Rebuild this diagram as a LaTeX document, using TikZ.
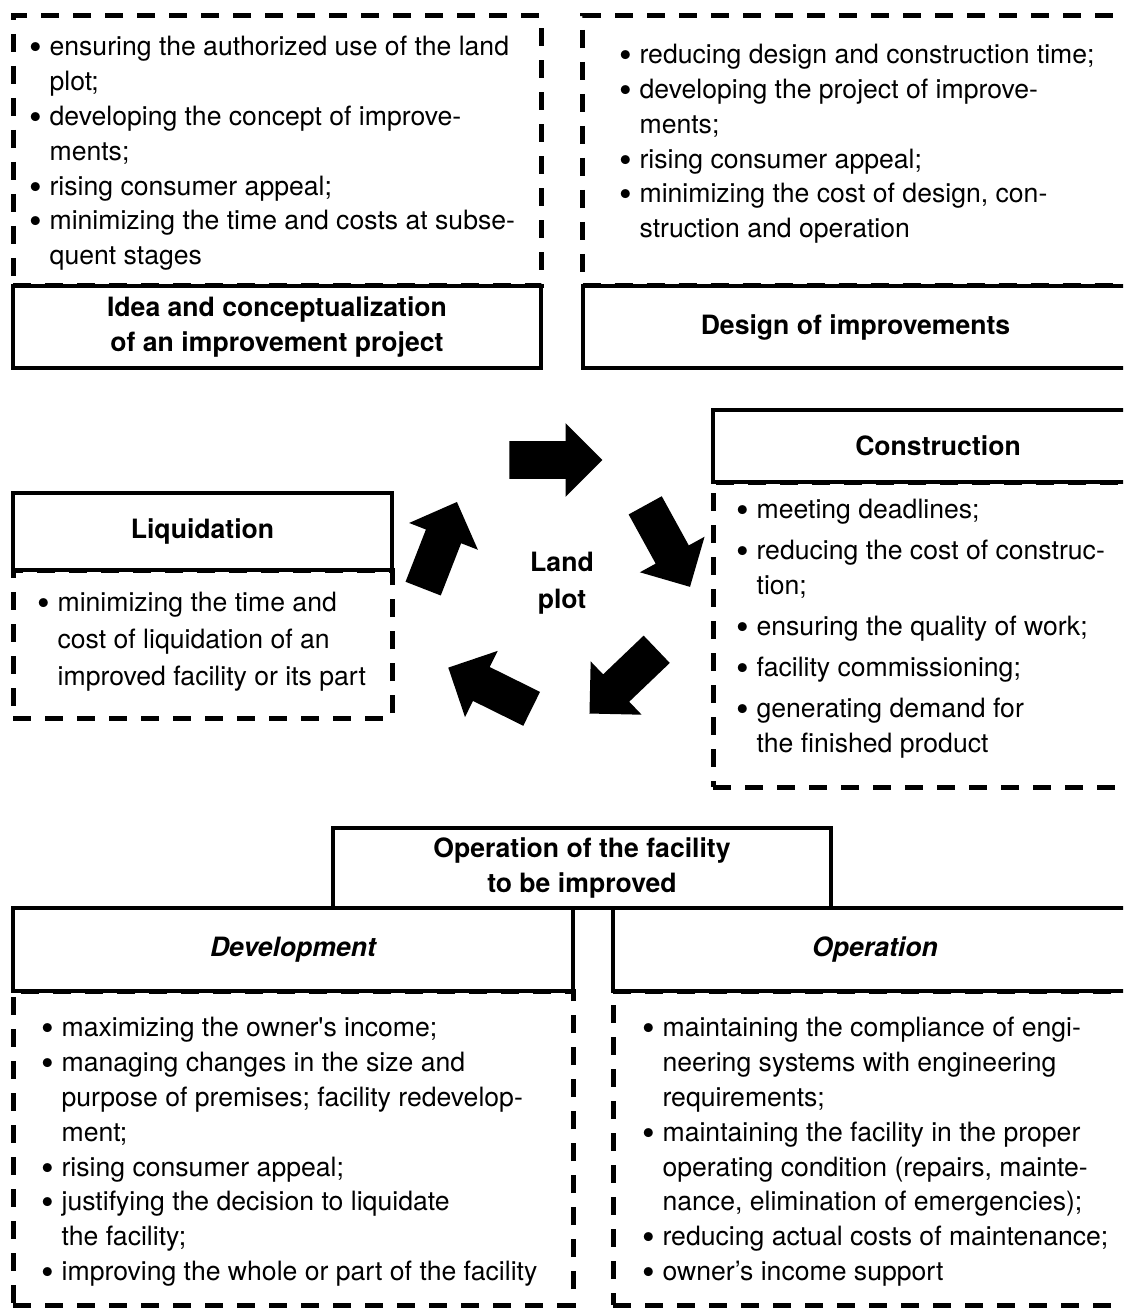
\documentclass[tikz,border=0pt]{standalone}
\usepackage{fontspec}
\setmainfont{TeX Gyre Heros}
\usetikzlibrary{shapes.arrows, positioning}

\newcommand{\bul}{\makebox[10.1pt][l]{\raisebox{-2pt}{\fontsize{18pt}{18pt}\selectfont\textbullet}}}
\newcommand{\cont}{\hspace*{10.1pt}}

\begin{document}
\begin{tikzpicture}[x=0.5pt, y=-0.5pt,
    dashbox/.style={rectangle, draw, line width=2.5pt, dash pattern=on 9pt off 7pt, inner sep=0pt},
    titlebox/.style={rectangle, draw, line width=2pt, align=center, inner sep=0pt, font=\fontsize{13.3pt}{17.5pt}\selectfont\bfseries},
    items/.style={anchor=north west, inner sep=0pt, align=left, font=\fontsize{13.3pt}{17.4pt}\selectfont},
    cycle/.style={single arrow, fill=black, inner sep=9.25pt, minimum height=46.5pt, single arrow head extend=9pt, anchor=tail}
]
    \useasboundingbox (0,0) rectangle (1123,1310);
    \clip (0,0) rectangle (1123,1310);

    \node[titlebox, minimum width=264pt, minimum height=41pt] (idea) at (277,327) {Idea and conceptualization\\of an improvement project};
    \node[titlebox, minimum width=273pt, minimum height=41pt] (design) at (855.5,327) {Design of improvements};
    \node[titlebox, minimum width=225pt, minimum height=36pt] (constr) at (938,446) {Construction};
    \node[titlebox, minimum width=189.5pt, minimum height=38.5pt] (liq) at (202.5,531.5) {Liquidation};
    \node[titlebox, minimum width=249pt, minimum height=40pt] (facil) at (582,868) {Operation of the facility\\to be improved};
    \node[titlebox, minimum width=280pt, minimum height=41.5pt, font=\fontsize{13.3pt}{17.5pt}\selectfont\bfseries\itshape] (devel) at (293,949.5) {Development};
    \node[titlebox, minimum width=262pt, minimum height=41.5pt, font=\fontsize{13.3pt}{17.5pt}\selectfont\bfseries\itshape] (oper) at (875,949.5) {Operation};

    \node[dashbox, minimum width=264pt, minimum height=135pt] (ideaD) at (277,151) {};
    \node[dashbox, minimum width=273pt, minimum height=135pt] (designD) at (855.5,151) {};
    \node[dashbox, minimum width=225pt, minimum height=152.5pt] (constrD) at (938,634.5) {};
    \node[dashbox, minimum width=189.5pt, minimum height=74pt] (liqD) at (202.5,644) {};
    \node[dashbox, minimum width=280pt, minimum height=157pt] (develD) at (293,1148) {};
    \node[dashbox, minimum width=262pt, minimum height=157pt] (operD) at (875,1148) {};

    \node[items] (ideaT) at (29,36) {\bul ensuring the authorized use of the land\\
        \cont plot;\\
        \bul developing the concept of improve-\\
        \cont ments;\\
        \bul rising consumer appeal;\\
        \bul minimizing the time and costs at subse-\\
        \cont quent stages};
    \node[items] (designT) at (619,44) {\bul reducing design and construction time;\\
        \bul developing the project of improve-\\
        \cont ments;\\
        \bul rising consumer appeal;\\
        \bul minimizing the cost of design, con-\\
        \cont struction and operation};
    \node[items, font=\fontsize{13.3pt}{17.5pt}\selectfont] (constrT) at (736,499) {\bul meeting deadlines;\\[3pt]
        \bul reducing the cost of construc-\\
        \cont tion;\\[3pt]
        \bul ensuring the quality of work;\\[3pt]
        \bul facility commissioning;\\[3pt]
        \bul generating demand for\\
        \cont the finished product};
    \node[items, font=\fontsize{13.3pt}{18.5pt}\selectfont] (liqT) at (37,592) {\bul minimizing the time and\\
        \cont cost of liquidation of an\\
        \cont improved facility or its part};
    \node[items] (develT) at (41,1017) {\bul maximizing the owner\textquotesingle s income;\\
        \bul managing changes in the size and\\
        \cont purpose of premises; facility redevelop-\\
        \cont ment;\\
        \bul rising consumer appeal;\\
        \bul justifying the decision to liquidate\\
        \cont the facility;\\
        \bul improving the whole or part of the facility};
    \node[items] (operT) at (642,1017) {\bul maintaining the compliance of engi-\\
        \cont neering systems with engineering\\
        \cont requirements;\\
        \bul maintaining the facility in the proper\\
        \cont operating condition (repairs, mainte-\\
        \cont nance, elimination of emergencies);\\
        \bul reducing actual costs of maintenance;\\
        \bul owner’s income support};

    \node[align=center, inner sep=0pt, font=\fontsize{13.3pt}{18.5pt}\selectfont\bfseries] (land) at (562,583) {Land\\plot};

    \node[cycle, rotate=0] (toDesign) at (509,460) {};
    \node[cycle, rotate=-61.2] (toConstr) at (645,505) {};
    \node[cycle, rotate=223.7] (toOper) at (657,649) {};
    \node[cycle, rotate=153.7] (toLiq) at (532,709) {};
    \node[cycle, rotate=68.7] (toIdea) at (423,589) {};
\end{tikzpicture}
\end{document}
